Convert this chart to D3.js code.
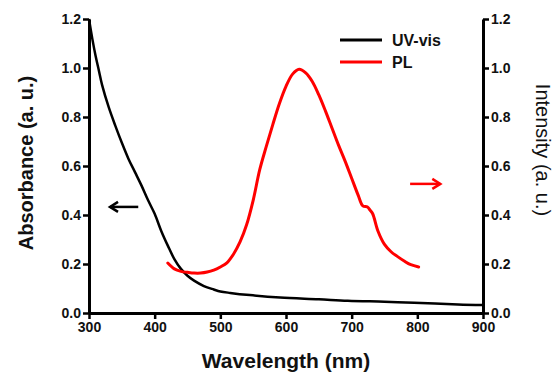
<!DOCTYPE html>
<html>
<head>
<meta charset="utf-8">
<script src="https://cdn.jsdelivr.net/npm/d3@7"></script>
<style>
  body { margin: 0; background: #fff; }
  svg { display: block; font-family: "Liberation Sans", Arial, sans-serif; }
</style>
</head>
<body>
<div id="chart"></div>
<script>
// UV-vis absorbance (wavelength nm, absorbance a.u.)
const uvWave = [300, 305, 310, 315, 320, 330, 340, 350, 360, 370, 380, 390, 400, 410, 420, 430, 440, 450, 460, 475, 490, 500, 515, 545, 591, 650, 694, 750, 795, 862, 900]
const uvAbs  = [1.20, 1.12, 1.05, 0.99, 0.93, 0.84, 0.765, 0.695, 0.63, 0.575, 0.52, 0.46, 0.405, 0.335, 0.275, 0.22, 0.18, 0.152, 0.132, 0.11, 0.096, 0.088, 0.082, 0.073, 0.063, 0.056, 0.050, 0.046, 0.042, 0.035, 0.033]

// PL intensity (wavelength nm, intensity a.u.)
const plWave = [420, 430, 440, 450, 460, 470, 480, 490, 500, 510, 520, 530, 540, 550, 560, 570, 580, 590, 600, 610, 620, 630, 640, 650, 660, 670, 680, 690, 700, 710, 717, 724, 728, 732, 740, 750, 760, 770, 780, 790, 802]
const plInt  = [0.204, 0.18, 0.17, 0.166, 0.163, 0.163, 0.167, 0.175, 0.188, 0.205, 0.24, 0.29, 0.36, 0.46, 0.585, 0.68, 0.77, 0.855, 0.925, 0.975, 0.995, 0.98, 0.945, 0.89, 0.825, 0.755, 0.685, 0.62, 0.55, 0.48, 0.437, 0.433, 0.42, 0.405, 0.335, 0.28, 0.25, 0.23, 0.212, 0.197, 0.188]

const xTicks = [300, 400, 500, 600, 700, 800, 900]
const yTicks = [0.0, 0.2, 0.4, 0.6, 0.8, 1.0, 1.2]

const seriesNames = ["UV-vis", "PL"]
const seriesColors = ["black", "#ff0000"]

const width = 556
const height = 374
const margin = {top: 19, right: 73, bottom: 61, left: 89}

const svg = d3.select("#chart").append("svg")
    .attr("width", width)
    .attr("height", height)

const x = d3.scaleLinear()
    .domain([300, 900])
    .range([margin.left, width - margin.right])

const yL = d3.scaleLinear()
    .domain([0, 1.2])
    .range([height - margin.bottom, margin.top])

const yR = d3.scaleLinear()
    .domain([0, 1.2])
    .range([height - margin.bottom, margin.top])

function styleAxis(g) {
  g.select(".domain").attr("stroke-width", 3)
  g.selectAll(".tick line").attr("stroke-width", 2.5)
  g.selectAll(".tick text")
    .attr("font-size", 14)
    .attr("font-weight", "bold")
    .attr("font-family", "Liberation Sans, Arial, sans-serif")
    .attr("fill", "#111")
}

svg.append("g")
    .attr("transform", `translate(0,${height - margin.bottom})`)
    .call(d3.axisBottom(x).tickValues(xTicks).tickFormat(d3.format("d")).tickSize(6).tickSizeOuter(0).tickPadding(3))
    .call(styleAxis)

svg.append("g")
    .attr("transform", `translate(${margin.left},0)`)
    .call(d3.axisLeft(yL).tickValues(yTicks).tickFormat(d3.format(".1f")).tickSize(6).tickSizeOuter(0).tickPadding(2))
    .call(styleAxis)

svg.append("g")
    .attr("transform", `translate(${width - margin.right},0)`)
    .call(d3.axisRight(yR).tickValues(yTicks).tickFormat(d3.format(".1f")).tickSize(6).tickSizeOuter(0).tickPadding(2))
    .call(styleAxis)

// curves
const uvData = uvWave.map((w, i) => [w, uvAbs[i]])
const plData = plWave.map((w, i) => [w, plInt[i]])

const lineL = d3.line().curve(d3.curveCatmullRom.alpha(0.5)).x(d => x(d[0])).y(d => yL(d[1]))
const lineR = d3.line().curve(d3.curveCatmullRom.alpha(0.5)).x(d => x(d[0])).y(d => yR(d[1]))

svg.append("path")
    .datum(uvData)
    .attr("fill", "none")
    .attr("stroke", seriesColors[0])
    .attr("stroke-width", 2.5)
    .attr("stroke-linejoin", "round")
    .attr("d", lineL)

svg.append("path")
    .datum(plData)
    .attr("fill", "none")
    .attr("stroke", seriesColors[1])
    .attr("stroke-width", 3)
    .attr("stroke-linejoin", "round")
    .attr("stroke-linecap", "round")
    .attr("d", lineR)

// arrows pointing to their axis
function arrow(x1, x2, yy, color) {
  const dir = Math.sign(x2 - x1)
  const g = svg.append("g").attr("stroke", color).attr("stroke-width", 2.5).attr("fill", "none")
  g.append("line").attr("x1", x1).attr("x2", x2).attr("y1", yy).attr("y2", yy)
  g.append("path")
      .attr("d", `M${x2 - dir * 8},${yy - 5}L${x2},${yy}L${x2 - dir * 8},${yy + 5}`)
      .attr("stroke-linejoin", "miter")
}
arrow(x(375), x(332), yL(0.433), seriesColors[0])
arrow(x(789), x(835), yR(0.527), seriesColors[1])

// legend
const legend = svg.append("g")
seriesNames.forEach((name, i) => {
  const ly = 40 + i * 22
  legend.append("line")
      .attr("x1", 340).attr("x2", 382)
      .attr("y1", ly).attr("y2", ly)
      .attr("stroke", seriesColors[i])
      .attr("stroke-width", 3)
  legend.append("text")
      .attr("x", 392).attr("y", ly + 6)
      .attr("font-size", 16)
      .attr("font-weight", "bold")
      .attr("fill", "#111")
      .text(name)
})

// axis titles
svg.append("text")
    .attr("x", (margin.left + width - margin.right) / 2)
    .attr("y", 368)
    .attr("text-anchor", "middle")
    .attr("font-size", 21)
    .attr("font-weight", "bold")
    .attr("fill", "#111")
    .text("Wavelength (nm)")

svg.append("text")
    .attr("transform", "translate(33,163) rotate(-90)")
    .attr("text-anchor", "middle")
    .attr("font-size", 20)
    .attr("font-weight", "bold")
    .attr("fill", "#111")
    .text("Absorbance (a. u.)")

svg.append("text")
    .attr("transform", "translate(536,150) rotate(90)")
    .attr("text-anchor", "middle")
    .attr("font-size", 20)
    .attr("fill", "#111")
    .text("Intensity (a. u.)")
</script>
</body>
</html>
